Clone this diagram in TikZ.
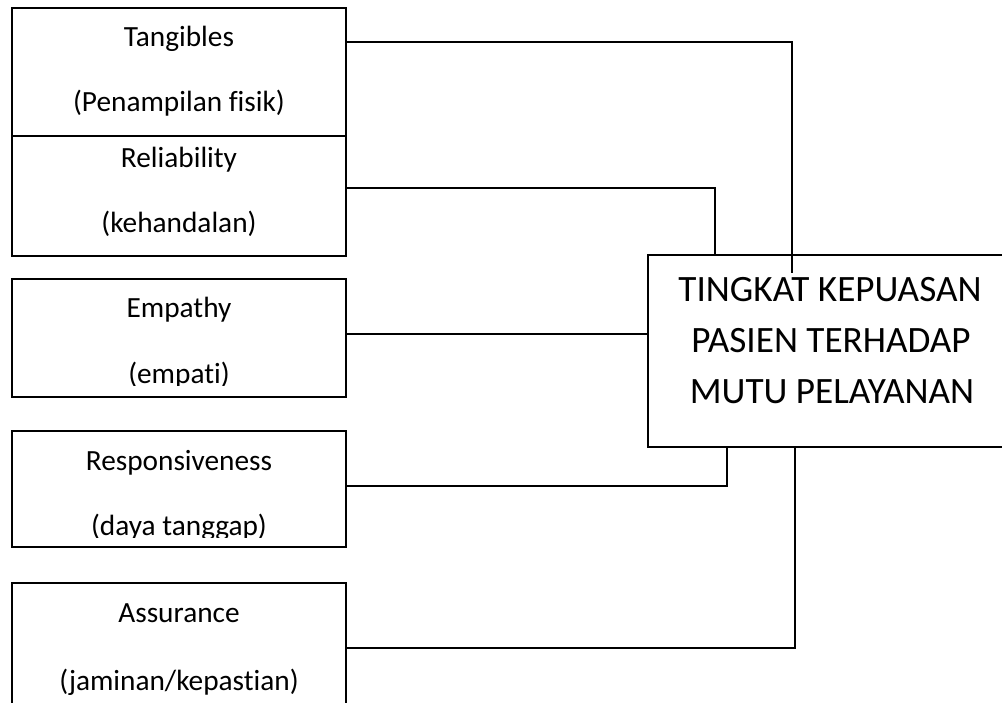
\documentclass[tikz,border=0pt]{standalone}
\usepackage{fontspec}
\setmainfont{Carlito}[Ligatures={NoCommon}]
\begin{document}
\begin{tikzpicture}[x=1pt,y=-1pt,
  box/.style={draw, line width=1.6pt, rectangle, inner sep=0pt},
  smalltext/.style={font=\fontsize{29.3}{34}\selectfont, anchor=base, inner sep=0pt},
  bigtext/.style={font=\fontsize{37.2}{44}\selectfont, anchor=base, inner sep=0pt},
  conn/.style={line width=1.7pt}]
\clip (0,0) rectangle (1002,703);
\fill[white] (0,0) rectangle (1002,703);
% boxes
\node[box, minimum width=334pt, minimum height=128pt] (b1) at (179,72) {};
\node[box, minimum width=334pt, minimum height=120pt] (b2) at (179,196) {};
\node[box, minimum width=334pt, minimum height=118pt] (b3) at (179,338) {};
\node[box, minimum width=334pt, minimum height=116pt] (b4) at (179,489) {};
\node[box, minimum width=334pt, minimum height=130pt] (b5) at (179,648) {};
\node[box, minimum width=372pt, minimum height=192pt] (big) at (834,351) {};
% texts
\node[smalltext] (t1a) at (179,47) {Tangibles};
\node[smalltext] (t1b) at (179,112) {(Penampilan fisik)};
\node[smalltext] (t2a) at (179,168) {Reliability};
\node[smalltext] (t2b) at (179,233) {(kehandalan)};
\node[smalltext] (t3a) at (179,318) {Empathy};
\begin{scope}
\clip (14,330) rectangle (344,386);
\node[smalltext] (t3b) at (179,384) {(empati)};
\end{scope}
\node[smalltext] (t4a) at (179,470) {Responsiveness};
\begin{scope}
\clip (14,500) rectangle (344,537);
\node[smalltext] (t4b) at (179,535) {(daya tanggap)};
\end{scope}
\node[smalltext] (t5a) at (179,622) {Assurance};
\node[smalltext] (t5b) at (179,690) {(jaminan/kepastian)};
\node[bigtext] (g1) at (830,302) {TINGKAT KEPUASAN};
\node[bigtext] (g2) at (831,353) {PASIEN TERHADAP};
\node[bigtext] (g3) at (832,404) {MUTU PELAYANAN};
% connectors
\coordinate (e1) at (792,273);
\draw[conn] ([yshift=-35pt]b1.north east) -| (e1);
\draw[conn] ([yshift=-53pt]b2.north east) -| ([xshift=68pt]big.north west);
\draw[conn] ([yshift=-56pt]b3.north east) -- ([yshift=-56pt]b3.north east -| big.west);
\draw[conn] ([yshift=-56pt]b4.north east) -| ([xshift=80pt]big.south west);
\draw[conn] ([yshift=-66pt]b5.north east) -| ([xshift=148pt]big.south west);
\end{tikzpicture}
\end{document}
